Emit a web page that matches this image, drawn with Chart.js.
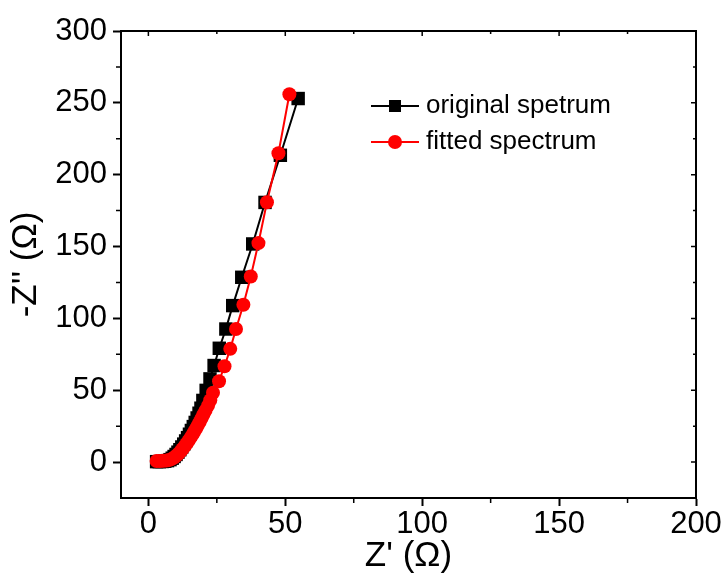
<!DOCTYPE html>
<html>
<head>
<meta charset="utf-8">
<script src="https://cdn.jsdelivr.net/npm/chart.js@4"></script>
<style>
  html, body { margin: 0; padding: 0; background: #fff; }
  #wrap { width: 722px; height: 578px; }
</style>
</head>
<body>
<div id="wrap"><canvas id="chart" width="722" height="578"></canvas></div>
<script>
// original spectrum (black squares)
const origX = [3.0, 4.0, 5.0, 6.0, 7.0, 7.9, 8.7, 9.4, 10.1, 10.8, 11.5, 12.2, 12.9, 13.6, 14.3, 15.0, 15.7, 16.4, 17.1, 17.8, 18.5, 19.2, 19.9, 21.1, 22.5, 24.0, 25.9, 28.3, 30.8, 34.1, 38.1, 42.6, 48.2, 54.7];
const origY = [0.3, 0.3, 0.4, 0.6, 1.0, 1.7, 2.7, 3.9, 5.3, 6.9, 8.6, 10.5, 12.5, 14.7, 17.0, 19.4, 22.0, 24.7, 27.6, 30.7, 34.0, 37.5, 42.9, 49.9, 57.9, 67.2, 79.2, 92.6, 108.9, 128.6, 151.8, 180.7, 213.5, 253];

// fitted spectrum (red circles)
const fitX = [3.0, 4.2, 5.4, 6.6, 7.7, 8.6, 9.4, 10.2, 11.0, 11.7, 12.4, 13.1, 13.8, 14.5, 15.2, 15.9, 16.6, 17.3, 18.0, 18.7, 19.4, 20.1, 20.9, 21.8, 22.6, 23.6, 25.8, 27.8, 29.9, 32.0, 34.7, 37.4, 40.2, 43.3, 47.5, 51.5];
const fitY = [0.8, 0.8, 0.9, 1.1, 1.5, 2.2, 3.2, 4.4, 5.8, 7.3, 8.9, 10.6, 12.4, 14.3, 16.3, 18.4, 20.6, 22.9, 25.3, 27.8, 30.4, 33.1, 36.0, 39.3, 43.0, 48.2, 56.3, 66.7, 78.8, 92.6, 109.5, 129.2, 152.4, 180.8, 214.9, 256];

const seriesNames = ["original spetrum", "fitted spectrum"];
const xTicks = [0, 50, 100, 150, 200];
const yTicks = [0, 50, 100, 150, 200, 250, 300];
const xMinor = [25, 75, 125, 175];
const yMinor = [25, 75, 125, 175, 225, 275];

const FONT = "'Liberation Sans', Arial, sans-serif";

function toPoints(xs, ys) {
  return xs.map((x, i) => ({ x: x, y: ys[i] }));
}

// frame on top/right, minor ticks, and the legend inside the plot
const framePlugin = {
  id: "frame",
  afterDraw(chart) {
    const ctx = chart.ctx;
    const a = chart.chartArea;
    const xs = chart.scales.x;
    const ys = chart.scales.y;
    ctx.save();
    ctx.strokeStyle = "#000";
    ctx.lineWidth = 2;
    ctx.beginPath();
    ctx.moveTo(a.left, a.top);
    ctx.lineTo(a.right, a.top);
    ctx.lineTo(a.right, a.bottom);
    ctx.stroke();

    ctx.lineWidth = 1.5;
    ctx.beginPath();
    // minor ticks outward on bottom/left, inward on top/right
    xMinor.forEach(v => {
      const px = xs.getPixelForValue(v);
      ctx.moveTo(px, a.bottom); ctx.lineTo(px, a.bottom + 5);
      ctx.moveTo(px, a.top); ctx.lineTo(px, a.top + 3);
    });
    yMinor.forEach(v => {
      const py = ys.getPixelForValue(v);
      ctx.moveTo(a.left, py); ctx.lineTo(a.left - 5, py);
      ctx.moveTo(a.right, py); ctx.lineTo(a.right - 3, py);
    });
    xTicks.forEach(v => {
      const px = xs.getPixelForValue(v);
      ctx.moveTo(px, a.top); ctx.lineTo(px, a.top + 5);
    });
    yTicks.forEach(v => {
      const py = ys.getPixelForValue(v);
      ctx.moveTo(a.right, py); ctx.lineTo(a.right - 5, py);
    });
    ctx.stroke();

    // legend
    const rows = [
      { color: "#000", shape: "rect", y: 106 },
      { color: "#ff0000", shape: "circle", y: 142 }
    ];
    ctx.font = "26px " + FONT;
    ctx.textBaseline = "middle";
    ctx.textAlign = "left";
    rows.forEach((r, i) => {
      ctx.strokeStyle = r.color;
      ctx.fillStyle = r.color;
      ctx.lineWidth = 2;
      ctx.beginPath();
      ctx.moveTo(371, r.y);
      ctx.lineTo(419, r.y);
      ctx.stroke();
      if (r.shape === "rect") {
        ctx.fillRect(389, r.y - 6, 12, 12);
      } else {
        ctx.beginPath();
        ctx.arc(395, r.y, 7, 0, Math.PI * 2);
        ctx.fill();
      }
      ctx.fillStyle = "#000";
      ctx.fillText(seriesNames[i], 426, r.y);
    });
    ctx.restore();
  }
};

new Chart(document.getElementById("chart"), {
  type: "scatter",
  data: {
    datasets: [
      {
        label: seriesNames[0],
        data: toPoints(origX, origY),
        showLine: true,
        borderColor: "#000",
        backgroundColor: "#000",
        borderWidth: 2,
        pointStyle: "rect",
        pointRadius: 9.5,
        pointBorderWidth: 0,
        order: 2
      },
      {
        label: seriesNames[1],
        data: toPoints(fitX, fitY),
        showLine: true,
        borderColor: "#ff0000",
        backgroundColor: "#ff0000",
        borderWidth: 2,
        pointStyle: "circle",
        pointRadius: 7,
        pointBorderWidth: 0,
        order: 1
      }
    ]
  },
  options: {
    responsive: false,
    animation: false,
    layout: { padding: { left: 0, right: 26, top: 31, bottom: 0 } },
    plugins: {
      legend: { display: false },
      tooltip: { enabled: false }
    },
    scales: {
      x: {
        type: "linear",
        min: -10,
        max: 200,
        afterBuildTicks: s => { s.ticks = xTicks.map(v => ({ value: v })); },
        afterFit: s => { s.height = 80; },
        grid: { drawOnChartArea: false, drawTicks: true, tickLength: 8, tickWidth: 2, tickColor: "#000" },
        border: { display: true, color: "#000", width: 2 },
        ticks: { color: "#000", font: { family: FONT, size: 31 }, padding: 0, maxRotation: 0 },
        title: { display: true, text: "Z' (Ω)", color: "#000", font: { family: FONT, size: 35 }, padding: { top: 0, bottom: 1 } }
      },
      y: {
        type: "linear",
        min: -25,
        max: 300,
        afterBuildTicks: s => { s.ticks = yTicks.map(v => ({ value: v })); },
        afterFit: s => { s.width = 121; },
        grid: { drawOnChartArea: false, drawTicks: true, tickLength: 8, tickWidth: 2, tickColor: "#000" },
        border: { display: true, color: "#000", width: 2 },
        ticks: { color: "#000", font: { family: FONT, size: 31 }, padding: 6 },
        title: { display: true, text: "-Z'' (Ω)", color: "#000", font: { family: FONT, size: 35 }, padding: { top: 5, bottom: 0 } }
      }
    }
  },
  plugins: [framePlugin]
});
</script>
</body>
</html>
